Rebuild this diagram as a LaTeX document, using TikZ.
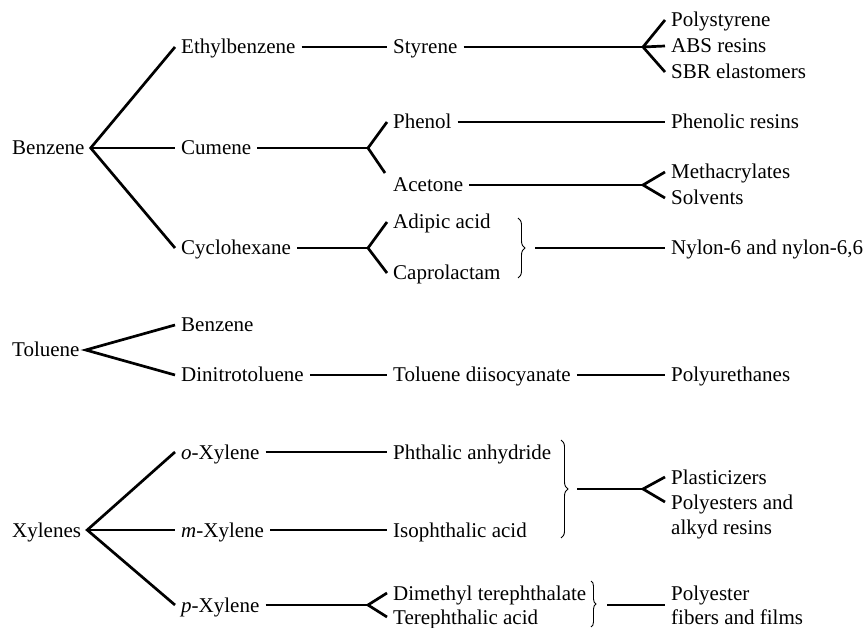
\documentclass[tikz,border=0pt]{standalone}
\usepackage{fontspec}
\setmainfont{Liberation Serif}
\usetikzlibrary{positioning, calc, decorations.pathreplacing}

\tikzset{
    lbl/.style={anchor=west, inner xsep=6pt, inner ysep=0pt, text height=16pt, text depth=2pt, font=\fontsize{21}{25}\selectfont},
    link/.style={line width=2.7pt},
    brc/.style={decorate, decoration={brace, amplitude=#1}, line width=0.9pt},
}

\begin{document}
\begin{tikzpicture}[x=1pt, y=-1pt]
        \useasboundingbox (0,0) rectangle (868,628);
        % raw materials
        \node[lbl] (benz) at (6,148) {Benzene};
        \node[lbl] (tol) at (6,350) {Toluene};
        \node[lbl] (xyl) at (6,530) {Xylenes};
        % first derivatives
        \foreach \n/\y/\t in {ethyl/47/Ethylbenzene, cum/148/Cumene, cyc/248/Cyclohexane,
                benzb/325/Benzene, dnt/375/Dinitrotoluene, ox/452/\textit{o}-Xylene,
                mx/530/\textit{m}-Xylene, px/605/\textit{p}-Xylene}
            \node[lbl] (\n) at (175,\y) {\t};
        % intermediates
        \foreach \n/\y/\t in {styr/47/Styrene, phen/122/Phenol, acet/185/Acetone,
                adip/222/Adipic acid, capro/273/Caprolactam, tdi/375/Toluene diisocyanate,
                phan/452/Phthalic anhydride, iso/530/Isophthalic acid,
                dmt/593/Dimethyl terephthalate, tpa/617/Terephthalic acid}
            \node[lbl] (\n) at (387,\y) {\t};
        % end products
        \foreach \n/\y/\t in {polys/20/Polystyrene, abs/46/ABS resins, sbr/72/SBR elastomers,
                phres/122/Phenolic resins, meth/172/Methacrylates, solv/198/Solvents,
                nylon/248/{Nylon-6 and nylon-6,6}, pur/375/Polyurethanes,
                plast/477/Plasticizers, polyes/502/Polyesters and, alkyd/527/alkyd resins,
                polyr/593/Polyester, fibers/617/fibers and films}
            \node[lbl] (\n) at (665,\y) {\t};

        % fork points
        \coordinate (styrf) at (643,47);
        \coordinate (acetf) at (643,185);
        \coordinate (cumf) at (368,148);
        \coordinate (acetin) at (385,173);
        \coordinate (cycf) at (368,248);
        \coordinate (pxf) at (368,605);
        \coordinate (plf) at (643,489);
        \coordinate (cbr) at (535,248);
        \coordinate (xbr) at (577,489);
        \coordinate (pbr) at (607,605);
        \coordinate (pend) at (665,605);

        % benzene
        \draw[link] (ethyl.west) -- (benz.east) -- (cyc.west);
        \draw[link] (benz.east) -- (cum.west);
        \draw[link] (ethyl.east) -- (styr.west);
        \draw[link] (styr.east) -- (styrf);
        \draw[link] (polys.west) -- (styrf) -- (sbr.west);
        \draw[link] (styrf) -- (abs.west);
        \draw[link] (cum.east) -- (cumf);
        \draw[link] (phen.west) -- (cumf) -- (acetin);
        \draw[link] (phen.east) -- (phres.west);
        \draw[link] (acet.east) -- (acetf);
        \draw[link] (meth.west) -- (acetf) -- (solv.west);
        \draw[link] (cyc.east) -- (cycf);
        \draw[link] (adip.west) -- (cycf) -- (capro.west);
        \draw[brc=7pt] (518,218) -- (518,278);
        \draw[link] (cbr) -- (nylon.west);

        % toluene
        \draw[link] (benzb.west) -- (tol.east) -- (dnt.west);
        \draw[link] (dnt.east) -- (tdi.west);
        \draw[link] (tdi.east) -- (pur.west);

        % xylenes
        \draw[link] (ox.west) -- (xyl.east) -- (px.west);
        \draw[link] (xyl.east) -- (mx.west);
        \draw[link] (ox.east) -- (phan.west);
        \draw[link] (mx.east) -- (iso.west);
        \draw[link] (px.east) -- (pxf);
        \draw[link] (dmt.west) -- (pxf) -- (tpa.west);
        \draw[brc=7pt] (561,440) -- (561,538);
        \draw[link] (xbr) -- (plf);
        \draw[link] (plast.west) -- (plf) -- (polyes.west);
        \draw[brc=5pt] (591,581) -- (591,627);
        \draw[link] (pbr) -- (pend);
\end{tikzpicture}
\end{document}
